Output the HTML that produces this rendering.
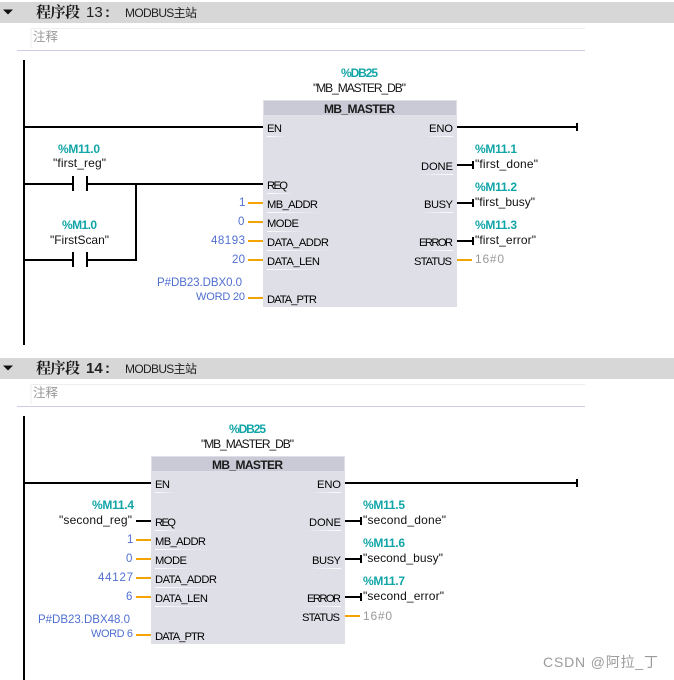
<!DOCTYPE html>
<html><head><meta charset="utf-8"><style>
html,body{margin:0;padding:0;background:#fff}
svg{display:block}
text{font-family:"Liberation Sans","Noto Sans CJK SC",sans-serif;font-size:12px;fill:#111}
.cn{font-family:"Noto Serif CJK SC",serif;font-weight:700;font-size:15px;fill:#1a1a1a}
.num{font-family:"Liberation Sans",sans-serif;font-size:15px;fill:#222}
.numb{font-family:"Liberation Sans",sans-serif;font-weight:700;font-size:15px;fill:#222}
.cm{font-size:12.500px;fill:#999}
.sub{font-size:12px;fill:#222}
.t{font-weight:700;fill:#12a5a8;font-size:12px}
.v{fill:#4f6fd0;font-size:11.500px}
.g{fill:#999}
.p{fill:#000;font-size:11.200px}
.ti{font-weight:700;font-size:12px;fill:#1a1a1a}
.k{stroke:#000;stroke-width:2;fill:none}
.o{stroke:#f5a300;stroke-width:2;fill:none}
</style></head><body>
<svg width="674" height="680" viewBox="0 0 674 680" xmlns="http://www.w3.org/2000/svg">
<defs>
<linearGradient id="fr"><stop offset="0" stop-color="#fff"/><stop offset="1" stop-color="#fff" stop-opacity="0"/></linearGradient>
<linearGradient id="fl"><stop offset="0" stop-color="#fff" stop-opacity="0"/><stop offset="1" stop-color="#fff"/></linearGradient>
</defs>
<!-- Section 13 -->
<rect x="0" y="2" width="674" height="21" fill="#d7d7d7"/>
<path d="M3 9.500h10l-5 5z" fill="#111"/>
<text class="cn" x="36" y="17" textLength="44">程序段</text><text class="num" x="86" y="17">13</text><text class="numb" x="105" y="17">:</text>
<text class="sub" x="125" y="17" textLength="72">MODBUS主站</text>
<path d="M31 48V28.500H585" stroke="#eeeeee" fill="none"/>
<text class="cm" x="33" y="41">注释</text>
<rect x="17" y="50" width="568" height="1" fill="#cfcbe8"/>
<rect x="23" y="60" width="2" height="285" fill="#000"/>
<text class="t" x="341" y="77" textLength="37">%DB25</text>
<text x="313" y="92" textLength="93">"MB_MASTER_DB"</text>
<rect x="263" y="100" width="194" height="207" fill="#dfdfe7"/>
<rect x="264" y="101" width="192" height="14" fill="#c9cad6"/>
<text class="ti" x="324" y="113" textLength="71">MB_MASTER</text>
<g fill="url(#fr)">
<rect x="267" y="136" width="20" height="1"/><rect x="267" y="193" width="28" height="1"/><rect x="267" y="212" width="56" height="1"/><rect x="267" y="231" width="38" height="1"/><rect x="267" y="250" width="68" height="1"/><rect x="267" y="269" width="58" height="1"/>
</g>
<g fill="url(#fl)">
<rect x="423" y="136" width="30" height="1"/><rect x="417" y="174" width="36" height="1"/><rect x="420" y="212" width="33" height="1"/><rect x="415" y="250" width="38" height="1"/>
</g>
<path class="k" d="M25 127H263M25 184H73M87 184H263M73 176V191M87 176V191M136 184V260H87M25 260H73M73 252V267M87 252V267M457 127H577M577 123V131"/>
<text class="t" x="58" y="153" textLength="42">%M11.0</text>
<text x="53" y="167" textLength="53">"first_reg"</text>
<text class="t" x="62" y="229" textLength="35">%M1.0</text>
<text x="50" y="244" textLength="59">"FirstScan"</text>
<text class="p" x="267" y="132" textLength="15">EN</text><text class="p" x="267" y="189" textLength="21">REQ</text>
<text class="p" x="267" y="208" textLength="51">MB_ADDR</text><text class="p" x="267" y="227" textLength="32">MODE</text>
<text class="p" x="267" y="246" textLength="62">DATA_ADDR</text><text class="p" x="267" y="265" textLength="53">DATA_LEN</text>
<text class="p" x="267" y="303" textLength="50">DATA_PTR</text>
<text class="p" x="429" y="132" textLength="24">ENO</text><text class="p" x="421" y="170" textLength="32">DONE</text>
<text class="p" x="424" y="208" textLength="29">BUSY</text><text class="p" x="419" y="246" textLength="34">ERROR</text>
<text class="p" x="414" y="265" textLength="38">STATUS</text>
<path class="o" d="M248 203H263M248 222H263M248 241H263M248 260H263M248 298H263M457 260H472"/>
<text class="v" x="239" y="206" textLength="5">1</text><text class="v" x="238" y="225" textLength="7">0</text>
<text class="v" x="211" y="244" textLength="34">48193</text><text class="v" x="232" y="263" textLength="13">20</text>
<text class="v" x="157" y="286" textLength="85">P#DB23.DBX0.0</text><text class="v" style="font-size:11px" x="196" y="300" textLength="49">WORD 20</text>
<path class="k" d="M457 165H473M457 203H473M457 241H473M473 161V169M473 199V207M473 237V245"/>
<text class="t" x="475" y="153" textLength="42">%M11.1</text><text x="475" y="168" textLength="63">"first_done"</text>
<text class="t" x="475" y="191" textLength="42">%M11.2</text><text x="475" y="206" textLength="60">"first_busy"</text>
<text class="t" x="475" y="229" textLength="42">%M11.3</text><text x="475" y="244" textLength="61">"first_error"</text>
<text class="g" x="475" y="263" textLength="29">16#0</text>

<!-- Section 14 -->
<rect x="0" y="358" width="674" height="21" fill="#d7d7d7"/>
<path d="M3 365.500h10l-5 5z" fill="#111"/>
<text class="cn" x="36" y="373" textLength="44">程序段</text><text class="numb" x="86" y="373">14</text><text class="numb" x="105" y="373">:</text>
<text class="sub" x="125" y="373" textLength="72">MODBUS主站</text>
<path d="M31 404V384.500H585" stroke="#eeeeee" fill="none"/>
<text class="cm" x="33" y="397">注释</text>
<rect x="17" y="406" width="568" height="1" fill="#cfcbe8"/>
<rect x="23" y="416" width="2" height="264" fill="#000"/>
<text class="t" x="229" y="433" textLength="37">%DB25</text>
<text x="201" y="448" textLength="93">"MB_MASTER_DB"</text>
<rect x="151" y="456" width="194" height="188" fill="#dfdfe7"/>
<rect x="152" y="457" width="192" height="14" fill="#c9cad6"/>
<text class="ti" x="212" y="469" textLength="71">MB_MASTER</text>
<g fill="url(#fr)">
<rect x="155" y="492" width="20" height="1"/><rect x="155" y="530" width="28" height="1"/><rect x="155" y="549" width="56" height="1"/><rect x="155" y="568" width="38" height="1"/><rect x="155" y="587" width="68" height="1"/><rect x="155" y="606" width="58" height="1"/>
</g>
<g fill="url(#fl)">
<rect x="311" y="492" width="30" height="1"/><rect x="305" y="530" width="36" height="1"/><rect x="308" y="568" width="33" height="1"/><rect x="303" y="606" width="38" height="1"/>
</g>
<path class="k" d="M25 483H151M345 483H577M577 479V487M136 521H151"/>
<text class="t" x="92" y="509" textLength="42">%M11.4</text>
<text x="59" y="524" textLength="73">"second_reg"</text>
<text class="p" x="155" y="488" textLength="15">EN</text><text class="p" x="155" y="526" textLength="21">REQ</text>
<text class="p" x="155" y="545" textLength="51">MB_ADDR</text><text class="p" x="155" y="564" textLength="32">MODE</text>
<text class="p" x="155" y="583" textLength="62">DATA_ADDR</text><text class="p" x="155" y="602" textLength="53">DATA_LEN</text>
<text class="p" x="155" y="640" textLength="50">DATA_PTR</text>
<text class="p" x="317" y="488" textLength="24">ENO</text><text class="p" x="309" y="526" textLength="32">DONE</text>
<text class="p" x="312" y="564" textLength="29">BUSY</text><text class="p" x="307" y="602" textLength="34">ERROR</text>
<text class="p" x="302" y="621" textLength="38">STATUS</text>
<path class="o" d="M136 540H151M136 559H151M136 578H151M136 597H151M136 635H151M345 616H360"/>
<text class="v" x="127" y="543" textLength="5">1</text><text class="v" x="126" y="562" textLength="7">0</text>
<text class="v" x="98" y="581" textLength="35">44127</text><text class="v" x="126" y="600" textLength="7">6</text>
<text class="v" x="38" y="623" textLength="92">P#DB23.DBX48.0</text><text class="v" style="font-size:11px" x="91" y="637" textLength="42">WORD 6</text>
<path class="k" d="M345 521H361M345 559H361M345 597H361M361 517V525M361 555V563M361 593V601"/>
<text class="t" x="363" y="509" textLength="42">%M11.5</text><text x="363" y="524" textLength="83">"second_done"</text>
<text class="t" x="363" y="547" textLength="42">%M11.6</text><text x="363" y="562" textLength="80">"second_busy"</text>
<text class="t" x="363" y="585" textLength="42">%M11.7</text><text x="363" y="600" textLength="81">"second_error"</text>
<text class="g" x="363" y="620" textLength="29">16#0</text>

<text x="543" y="667" textLength="115" style="font-size:14px;fill:#9b9b9b">CSDN @阿拉_丁</text>
</svg>
</body></html>
